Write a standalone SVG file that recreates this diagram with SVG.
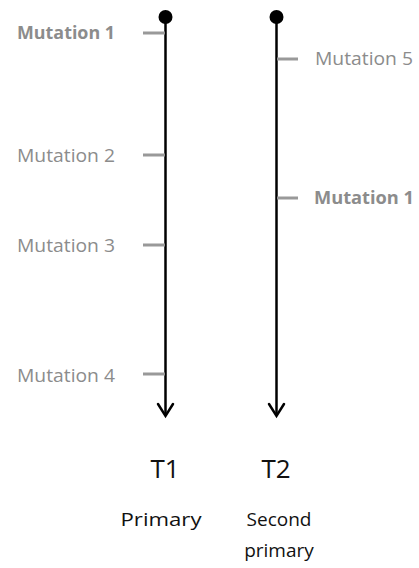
<svg xmlns="http://www.w3.org/2000/svg" width="419" height="568" viewBox="0 0 419 568">
  <style>
    .axis { stroke: #000; stroke-width: 2.5; fill: none; }
    .head { stroke: #000; stroke-width: 2.5; fill: none; stroke-linecap: round; stroke-linejoin: miter; }
    .tick { stroke: #999; stroke-width: 3; }
    .mut { font-family: "Open Sans", "Noto Sans", sans-serif; font-size: 18px; fill: #8c8c8c; }
    .bold { font-weight: bold; }
    .lbl { font-family: "Open Sans", "Noto Sans", sans-serif; fill: #111; text-anchor: middle; }
  </style>
  <rect width="419" height="568" fill="#fff"/>

  <g id="connectors">
    <line class="axis" x1="165.5" y1="17" x2="165.5" y2="415"/>
    <polyline class="head" points="158,404 165.5,416 173,404"/>
    <line class="axis" x1="276.5" y1="17" x2="276.5" y2="415"/>
    <polyline class="head" points="269,404 276.5,416 284,404"/>
  </g>

  <g id="t1">
    <circle cx="165.5" cy="17" r="7" fill="#000"/>
    <line class="tick" x1="143" y1="33" x2="165" y2="33"/>
    <line class="tick" x1="143" y1="155" x2="165" y2="155"/>
    <line class="tick" x1="143" y1="245" x2="165" y2="245"/>
    <line class="tick" x1="143" y1="374" x2="165" y2="374"/>
    <text class="mut bold" x="17" y="39" textLength="98" lengthAdjust="spacingAndGlyphs">Mutation 1</text>
    <text class="mut" x="17" y="162" textLength="98" lengthAdjust="spacingAndGlyphs">Mutation 2</text>
    <text class="mut" x="17" y="252" textLength="98" lengthAdjust="spacingAndGlyphs">Mutation 3</text>
    <text class="mut" x="17" y="382" textLength="98" lengthAdjust="spacingAndGlyphs">Mutation 4</text>
    <text class="lbl" x="165" y="478" font-size="26">T1</text>
    <text class="lbl" x="161" y="526" font-size="19" textLength="81" lengthAdjust="spacingAndGlyphs">Primary</text>
  </g>

  <g id="t2">
    <circle cx="276.5" cy="17" r="7" fill="#000"/>
    <line class="tick" x1="277" y1="59" x2="298" y2="59"/>
    <line class="tick" x1="277" y1="198" x2="298" y2="198"/>
    <text class="mut" x="315" y="65" textLength="98" lengthAdjust="spacingAndGlyphs">Mutation 5</text>
    <text class="mut bold" x="314" y="204" textLength="100" lengthAdjust="spacingAndGlyphs">Mutation 1</text>
    <text class="lbl" x="276" y="478" font-size="26">T2</text>
    <text class="lbl" x="279" y="526" font-size="19">Second</text>
    <text class="lbl" x="279" y="557" font-size="19">primary</text>
  </g>
</svg>
